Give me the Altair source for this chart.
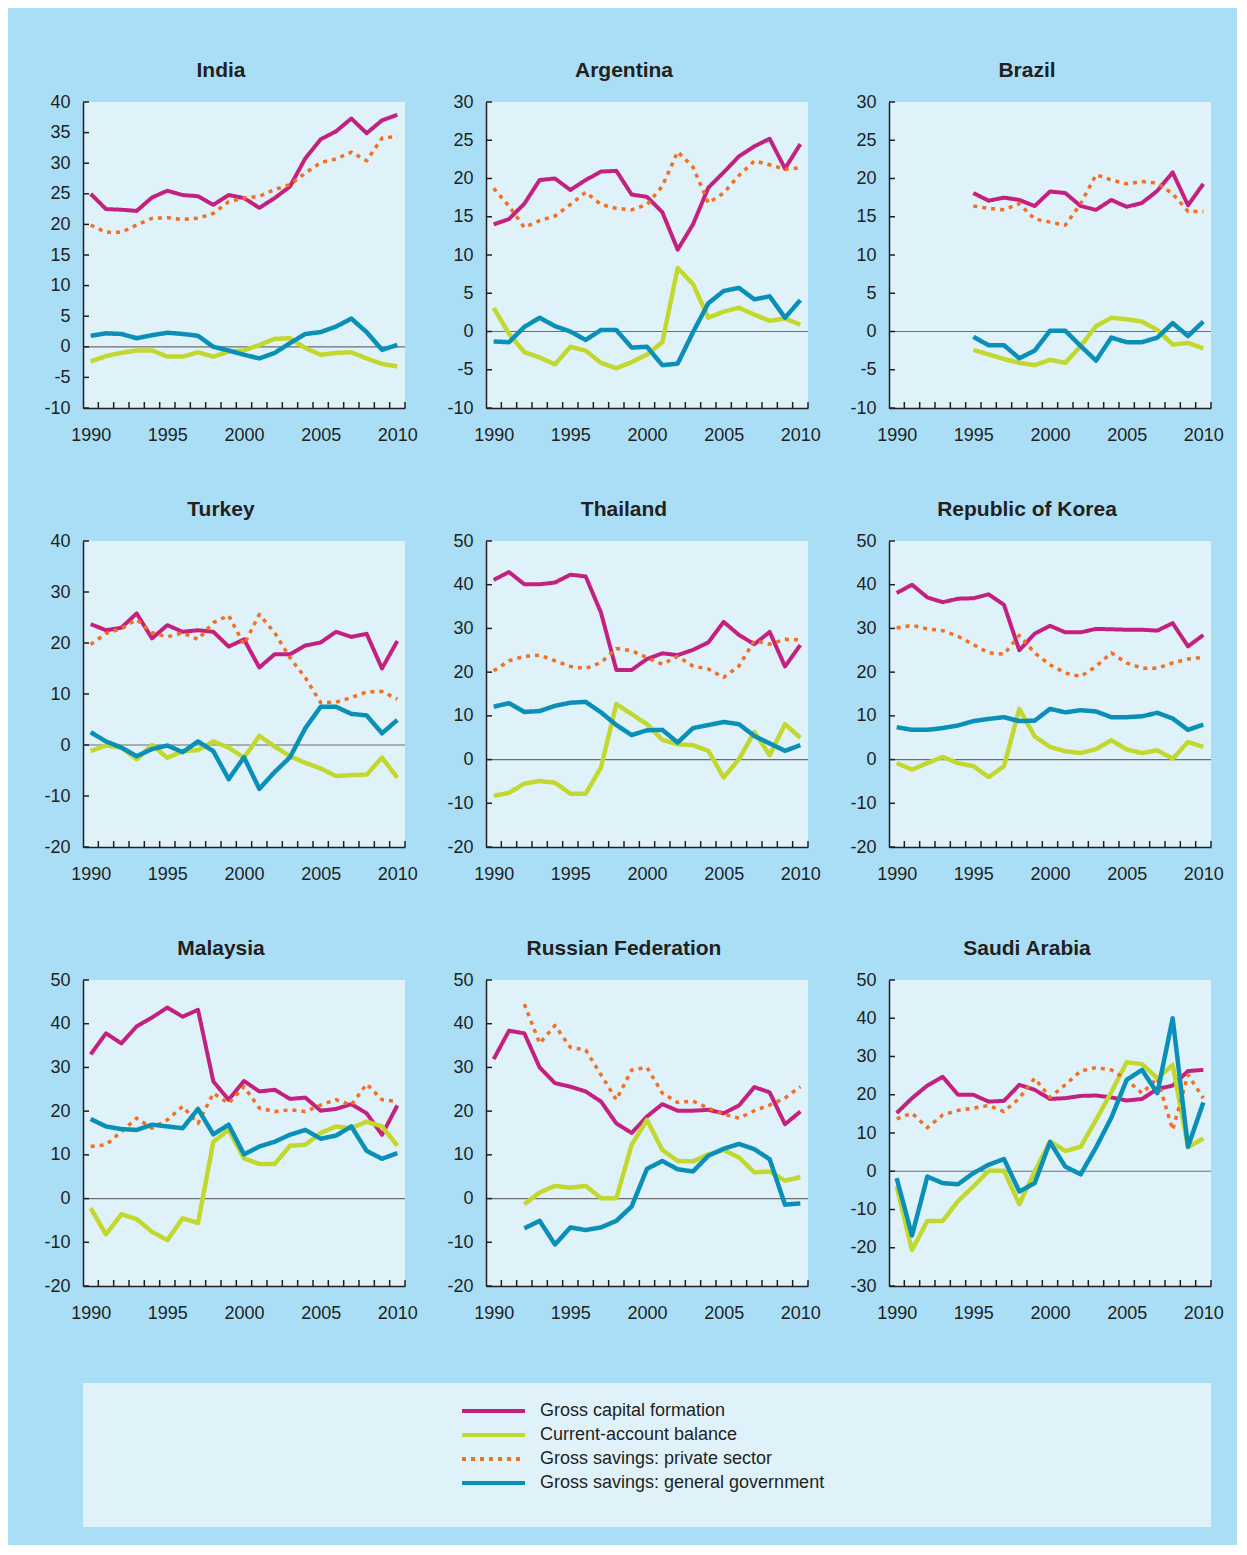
import altair as alt
import pandas as pd

years = list(range(1990, 2011))
x_labels = [1990, 1995, 2000, 2005, 2010]

series_names = [
    "Gross capital formation",
    "Current-account balance",
    "Gross savings: private sector",
    "Gross savings: general government",
]
series_colors = ["#c4207f", "#c3d82e", "#f36f21", "#0a8fb7"]
series_dash = [[1, 0], [1, 0], [4, 5], [1, 0]]
series_width = [4, 4.5, 3.5, 4.5]

# ---- data (per cent of GDP), 1990-2010; None = not available ----
india_gcf = [25.0, 22.5, 22.4, 22.2, 24.4, 25.5, 24.8, 24.6, 23.2, 24.8, 24.3, 22.7, 24.3, 26.2, 30.8, 33.9, 35.2, 37.3, 34.9, 37.0, 37.9]
india_cab = [-2.4, -1.5, -1.0, -0.6, -0.6, -1.6, -1.6, -0.9, -1.6, -0.8, -0.6, 0.3, 1.3, 1.4, -0.2, -1.3, -1.0, -0.9, -1.9, -2.8, -3.2]
india_priv = [19.9, 18.7, 18.7, 19.9, 21.0, 21.1, 20.8, 21.0, 21.8, 23.7, 24.3, 24.6, 25.7, 26.5, 28.4, 30.1, 30.7, 31.8, 30.4, 34.1, 34.4]
india_gov = [1.8, 2.2, 2.1, 1.4, 1.9, 2.3, 2.1, 1.8, 0.0, -0.6, -1.3, -1.9, -1.0, 0.6, 2.1, 2.4, 3.3, 4.6, 2.4, -0.5, 0.3]

argentina_gcf = [14.0, 14.7, 16.7, 19.8, 20.0, 18.5, 19.8, 20.9, 21.0, 17.9, 17.6, 15.6, 10.7, 14.0, 18.8, 20.8, 22.9, 24.2, 25.2, 21.3, 24.5]
argentina_cab = [3.1, -0.3, -2.7, -3.4, -4.3, -2.0, -2.5, -4.1, -4.8, -4.0, -3.0, -1.4, 8.3, 6.2, 1.8, 2.6, 3.1, 2.2, 1.4, 1.7, 0.9]
argentina_priv = [18.7, 16.4, 13.6, 14.5, 15.1, 16.6, 18.2, 16.6, 16.1, 15.9, 16.6, 19.0, 23.5, 21.5, 16.8, 18.1, 20.4, 22.3, 21.8, 21.2, 21.4]
argentina_gov = [-1.3, -1.4, 0.6, 1.8, 0.7, 0.0, -1.1, 0.2, 0.2, -2.1, -2.0, -4.4, -4.2, -0.1, 3.7, 5.3, 5.7, 4.2, 4.6, 1.8, 4.1]

brazil_gcf = [None] * 5 + [18.1, 17.1, 17.5, 17.2, 16.4, 18.3, 18.1, 16.4, 15.9, 17.2, 16.3, 16.8, 18.4, 20.8, 16.5, 19.3]
brazil_cab = [None] * 5 + [-2.4, -3.0, -3.6, -4.1, -4.4, -3.7, -4.1, -1.9, 0.7, 1.8, 1.6, 1.3, 0.2, -1.7, -1.5, -2.2]
brazil_priv = [None] * 5 + [16.4, 16.1, 15.9, 16.7, 14.7, 14.3, 13.9, 16.7, 20.5, 19.8, 19.3, 19.6, 19.4, 18.0, 15.7, 15.7]
brazil_gov = [None] * 5 + [-0.7, -1.8, -1.8, -3.5, -2.5, 0.1, 0.1, -1.9, -3.8, -0.8, -1.4, -1.4, -0.8, 1.1, -0.6, 1.3]

turkey_gcf = [23.7, 22.5, 23.0, 25.8, 20.9, 23.5, 22.2, 22.5, 22.2, 19.3, 20.7, 15.2, 17.8, 17.8, 19.5, 20.1, 22.2, 21.2, 21.8, 15.0, 20.4]
turkey_cab = [-1.2, -0.1, -0.5, -2.8, 0.0, -2.5, -1.2, -1.0, 0.7, -0.5, -2.5, 1.8, -0.3, -2.2, -3.5, -4.6, -6.1, -5.9, -5.8, -2.5, -6.4]
turkey_priv = [19.7, 21.9, 22.8, 24.6, 22.0, 21.2, 22.0, 20.7, 24.0, 25.4, 19.7, 25.6, 22.0, 17.1, 13.2, 8.3, 8.4, 9.3, 10.4, 10.5, 9.0]
turkey_gov = [2.5, 0.7, -0.5, -2.2, -0.8, -0.1, -1.4, 0.7, -1.2, -6.7, -2.4, -8.6, -5.3, -2.4, 3.3, 7.5, 7.5, 6.1, 5.8, 2.3, 4.9]

thailand_gcf = [41.1, 42.9, 40.1, 40.1, 40.5, 42.3, 41.9, 33.6, 20.5, 20.5, 23.0, 24.3, 23.9, 25.1, 26.8, 31.5, 28.5, 26.4, 29.2, 21.3, 26.2]
thailand_cab = [-8.3, -7.6, -5.5, -4.9, -5.3, -7.8, -7.8, -1.8, 12.7, 10.4, 8.1, 4.5, 3.5, 3.3, 2.0, -4.1, 0.1, 6.3, 1.0, 8.1, 5.0]
thailand_priv = [20.3, 22.6, 23.6, 23.9, 22.6, 21.3, 20.8, 22.2, 25.4, 24.9, 23.3, 21.8, 23.6, 21.4, 20.7, 18.8, 21.4, 27.2, 26.4, 27.5, 27.4]
thailand_gov = [12.1, 12.9, 10.9, 11.1, 12.3, 13.0, 13.2, 10.8, 7.9, 5.6, 6.7, 6.8, 3.9, 7.2, 7.9, 8.6, 8.1, 5.4, 3.7, 2.0, 3.3]

korea_gcf = [38.1, 40.0, 37.1, 36.0, 36.8, 36.9, 37.8, 35.4, 25.0, 28.8, 30.6, 29.1, 29.1, 29.9, 29.8, 29.7, 29.7, 29.5, 31.2, 25.9, 28.5]
korea_cab = [-0.8, -2.3, -0.8, 0.6, -0.8, -1.5, -4.0, -1.5, 11.6, 5.3, 2.9, 1.9, 1.5, 2.4, 4.4, 2.3, 1.5, 2.1, 0.2, 4.0, 2.9]
korea_priv = [30.1, 30.7, 29.9, 29.5, 28.2, 26.3, 24.4, 24.1, 28.4, 24.4, 21.7, 19.8, 19.0, 21.3, 24.4, 22.1, 20.9, 20.9, 22.1, 23.0, 23.4]
korea_gov = [7.4, 6.8, 6.8, 7.2, 7.8, 8.8, 9.3, 9.7, 8.8, 8.9, 11.6, 10.8, 11.3, 11.0, 9.7, 9.7, 9.9, 10.7, 9.4, 6.8, 8.0]

malaysia_gcf = [33.0, 37.8, 35.5, 39.4, 41.4, 43.7, 41.6, 43.2, 26.8, 22.6, 26.9, 24.5, 24.9, 22.8, 23.1, 20.1, 20.5, 21.6, 19.5, 14.6, 21.3]
malaysia_cab = [-2.2, -8.2, -3.6, -4.7, -7.6, -9.5, -4.5, -5.6, 13.0, 15.7, 9.2, 7.9, 7.9, 12.1, 12.3, 15.0, 16.5, 16.1, 17.6, 16.5, 12.1]
malaysia_priv = [11.9, 12.3, 15.3, 18.4, 16.1, 18.0, 21.1, 17.2, 24.1, 21.8, 25.6, 20.7, 19.9, 20.3, 19.9, 21.4, 22.6, 21.4, 26.2, 22.6, 22.2]
malaysia_gov = [18.2, 16.5, 15.9, 15.7, 16.9, 16.5, 16.1, 20.5, 14.7, 16.9, 10.1, 11.9, 13.0, 14.6, 15.7, 13.7, 14.4, 16.5, 10.9, 9.1, 10.4]

russia_gcf = [31.9, 38.4, 37.8, 30.0, 26.4, 25.6, 24.5, 22.2, 17.2, 15.0, 18.8, 21.6, 20.1, 20.1, 20.3, 19.5, 21.3, 25.5, 24.3, 17.0, 19.9]
russia_cab = [None, None, -1.3, 1.4, 2.9, 2.5, 2.9, 0.1, 0.1, 12.3, 18.0, 11.1, 8.6, 8.5, 10.1, 11.1, 9.4, 6.0, 6.2, 4.1, 4.9]
russia_priv = [None, None, 44.5, 35.5, 39.6, 34.6, 34.0, 28.3, 22.6, 29.4, 30.0, 24.1, 22.0, 22.3, 20.7, 19.3, 18.4, 20.1, 21.4, 23.0, 25.6]
russia_gov = [None, None, -6.8, -5.1, -10.5, -6.6, -7.2, -6.6, -5.1, -1.8, 6.8, 8.6, 6.7, 6.2, 9.8, 11.4, 12.5, 11.3, 9.0, -1.4, -1.1]

saudi_gcf = [15.2, 19.1, 22.4, 24.7, 20.0, 20.0, 18.2, 18.4, 22.6, 21.3, 18.9, 19.1, 19.7, 19.8, 19.3, 18.5, 18.9, 21.5, 22.4, 26.2, 26.5]
saudi_cab = [-4.0, -20.6, -13.0, -13.0, -7.8, -4.0, 0.1, 0.1, -8.6, -0.1, 7.8, 5.3, 6.4, 13.4, 20.7, 28.5, 28.0, 24.3, 27.8, 6.3, 8.6]
saudi_priv = [13.7, 15.2, 11.4, 14.7, 15.9, 16.5, 17.2, 15.6, 19.1, 24.3, 19.3, 22.6, 26.2, 27.1, 26.5, 23.9, 20.4, 24.3, 10.8, 25.2, 19.1]
saudi_gov = [-1.8, -16.8, -1.4, -3.1, -3.4, -0.5, 1.7, 3.2, -5.3, -3.1, 7.6, 1.2, -0.8, 6.2, 14.0, 23.9, 26.5, 20.4, 40.0, 6.4, 18.0]

# panel title, y min, y max, y step, series
panels_spec = [
    ("India", -10, 40, 5, [india_gcf, india_cab, india_priv, india_gov]),
    ("Argentina", -10, 30, 5, [argentina_gcf, argentina_cab, argentina_priv, argentina_gov]),
    ("Brazil", -10, 30, 5, [brazil_gcf, brazil_cab, brazil_priv, brazil_gov]),
    ("Turkey", -20, 40, 10, [turkey_gcf, turkey_cab, turkey_priv, turkey_gov]),
    ("Thailand", -20, 50, 10, [thailand_gcf, thailand_cab, thailand_priv, thailand_gov]),
    ("Republic of Korea", -20, 50, 10, [korea_gcf, korea_cab, korea_priv, korea_gov]),
    ("Malaysia", -20, 50, 10, [malaysia_gcf, malaysia_cab, malaysia_priv, malaysia_gov]),
    ("Russian Federation", -20, 50, 10, [russia_gcf, russia_cab, russia_priv, russia_gov]),
    ("Saudi Arabia", -30, 50, 10, [saudi_gcf, saudi_cab, saudi_priv, saudi_gov]),
]

BG = "#aadef7"
PANEL = "#dff2fa"
INK = "#231f20"
ZERO = "#6d6e71"
FONT = "Liberation Sans"
W, H = 322, 306
TICK = 6
YLAB_PAD = 13
LABEL_EXPR = "'' + datum.value"

year_bounds = [y + 0.5 for y in years]


def make_panel(title, lo, hi, step, series):
    yticks = list(range(lo, hi + 1, step))
    xenc = alt.X(
        "year:Q",
        scale=alt.Scale(domain=[1989.5, 2010.5], nice=False, zero=False),
        axis=alt.Axis(values=x_labels, format="d", title=None, labelPadding=18,
                      labelFlush=False, labelOverlap=False),
    )
    yenc = alt.Y(
        "value:Q",
        scale=alt.Scale(domain=[lo, hi], nice=False, zero=False),
        axis=alt.Axis(values=yticks, labelExpr=LABEL_EXPR, title=None, labelPadding=YLAB_PAD,
                      labelFlush=False, labelOverlap=False),
    )
    layers = []
    layers.append(
        alt.Chart(pd.DataFrame({"value": [0]}))
        .mark_rule(color=ZERO, strokeWidth=1.2)
        .encode(y=yenc)
    )
    for name, vals, col, dash, sw in zip(series_names, series, series_colors, series_dash, series_width):
        df = pd.DataFrame({"year": years, "value": vals}).dropna()
        df["series"] = name
        layers.append(
            alt.Chart(df)
            .mark_line(color=col, strokeWidth=sw, strokeDash=dash, strokeCap="butt", strokeJoin="round")
            .encode(x=xenc, y=yenc)
        )
    layers.append(
        alt.Chart(pd.DataFrame({"value": yticks}))
        .mark_rule(color=INK, strokeWidth=1.5)
        .encode(y=yenc, x=alt.value(0), x2=alt.value(TICK))
    )
    layers.append(
        alt.Chart(pd.DataFrame({"year": year_bounds}))
        .mark_rule(color=INK, strokeWidth=1.5)
        .encode(x=xenc, y=alt.value(H - TICK), y2=alt.value(H))
    )
    return alt.layer(*layers).properties(
        width=W,
        height=H,
        title=alt.TitleParams(text=title, anchor="middle", frame="group", dx=-23, dy=20,
                              offset=15, baseline="alphabetic"),
    )


panels = [make_panel(*p) for p in panels_spec]
grid = alt.ConcatChart(concat=panels, columns=3, spacing={"row": 133, "column": 81}, bounds="flush")

legend_df = pd.DataFrame({"series": series_names, "year": [1990] * 4, "value": [-10.0] * 4})
leg_params = dict(
    orient="none", legendX=401.5, legendY=19, title=None,
    symbolType="M-6.3,0L6.3,0", symbolSize=100, symbolStrokeWidth=4,
    labelFont=FONT, labelFontSize=18, labelColor=INK, labelOffset=37.5,
    rowPadding=6, padding=0, labelLimit=500,
)
legend_chart = (
    alt.Chart(legend_df)
    .transform_filter("false")
    .mark_line(strokeWidth=4)
    .encode(
        x=alt.X("year:Q", scale=alt.Scale(domain=[1990, 2010]), axis=None),
        # invisible axis so that the legend box lines up with the panels' plot areas
        y=alt.Y("value:Q", scale=alt.Scale(domain=[-20, 0]),
                axis=alt.Axis(values=[-10], labelExpr=LABEL_EXPR, labelColor="transparent",
                              domain=False, ticks=False, grid=False, title=None,
                              labelPadding=YLAB_PAD)),
        color=alt.Color("series:N", scale=alt.Scale(domain=series_names, range=series_colors),
                        legend=alt.Legend(**leg_params)),
        strokeDash=alt.StrokeDash("series:N", scale=alt.Scale(domain=series_names, range=series_dash),
                                  legend=alt.Legend(**leg_params)),
    )
    .properties(width=1128, height=144)
)

chart = (
    alt.VConcatChart(vconcat=[grid, legend_chart], spacing=61)
    .resolve_legend(color="independent", strokeDash="independent")
    .properties(padding={"left": 35, "top": 52, "right": 13, "bottom": 18})
    .configure(background=BG)
    .configure_view(fill=PANEL, stroke=None)
    .configure_axis(labelFont=FONT, labelFontSize=18, labelColor=INK, domainColor=INK,
                    domainWidth=1.5, ticks=False, grid=False)
    .configure_title(font=FONT, fontSize=21, fontWeight="bold", color=INK)
)

chart.save("out.html", embed_options={"renderer": "svg", "actions": False})
